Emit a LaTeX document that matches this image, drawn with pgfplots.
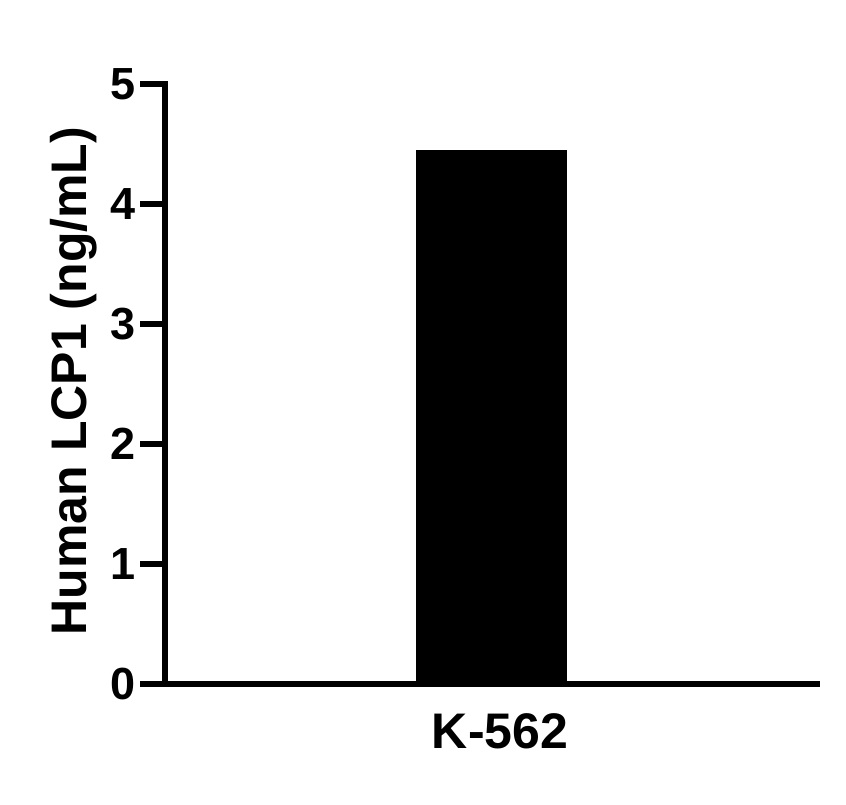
\documentclass[border=0pt]{standalone}
\usepackage{fontspec}
\setmainfont{Liberation Sans}
\usepackage{pgfplots}
\pgfplotsset{compat=1.18}

\begin{document}
\begin{tikzpicture}[x=1pt,y=1pt]
\path[use as bounding box] (-165,-120) rectangle (681,684);
\begin{axis}[
    scale only axis,
    width=652pt, height=600pt,
    at={(0,0)}, anchor=south west,
    xmin=0, xmax=2,
    ymin=0, ymax=5,
    axis x line=bottom,
    axis y line=left,
    axis line style={line width=5.5pt, -, line cap=rect},
    ytick={0,1,2,3,4,5},
    xtick={1},
    xticklabels={K-562},
    tick align=outside,
    y tick style={line width=5.5pt, black},
    major tick length=25pt,
    x tick style={draw=none},
    /pgf/number format/assume math mode=true,
    ticklabel style={font=\fontsize{45}{50}\selectfont\bfseries},
    yticklabel style={xshift=-1pt},
    xticklabel style={font=\fontsize{50}{56}\selectfont\bfseries, yshift=-1pt, xshift=9pt},
    ylabel={Human LCP1 (ng/mL)},
    ylabel style={font=\fontsize{50}{56}\selectfont\bfseries, at={(axis description cs:-0.14,0.505)}, anchor=center, rotate=0},
    clip=false,
]
\addplot[ybar, bar width=151pt, fill=black, draw=none] coordinates {(1,4.45)};
\end{axis}
\end{tikzpicture}
\end{document}
